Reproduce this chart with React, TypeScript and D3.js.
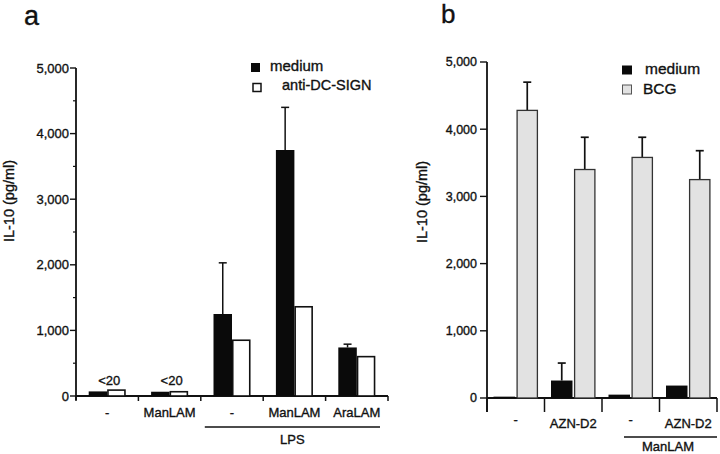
import React from 'react';
import * as d3 from 'd3';

// Panel a data
const groupsA = ['-', 'ManLAM', '-', 'ManLAM', 'AraLAM'];
const mediumA = [70, 65, 1250, 3750, 740];
const mediumAErr = [0, 0, 780, 650, 50];
const antiA = [90, 65, 850, 1360, 600];
const noteA = ['<20', '<20', '', '', ''];
const ticksA = [0, 1000, 2000, 3000, 4000, 5000];
const minorTicksA = [500, 1500, 2500, 3500, 4500];
const seriesA = ['medium', 'anti-DC-SIGN'];

// Panel b data
const groupsB = ['-', 'AZN-D2', '-', 'AZN-D2'];
const mediumB = [20, 260, 50, 185];
const mediumBErr = [0, 260, 0, 0];
const bcgB = [4280, 3400, 3580, 3250];
const bcgBErr = [420, 480, 300, 430];
const ticksB = [0, 1000, 2000, 3000, 4000, 5000];
const seriesB = ['medium', 'BCG'];

const FONT = '"Liberation Sans", Arial, Helvetica, sans-serif';
const fmt = d3.format(',');
const TXT = { fill: '#111', stroke: '#111', strokeWidth: 0.35 };

export default function App() {
  // scales panel a
  const xA = d3.scaleBand<number>().domain(d3.range(groupsA.length)).range([76, 388]);
  const yA = d3.scaleLinear().domain([0, 5000]).range([396, 68]);
  const bwA = 18.5;
  // scales panel b
  const xB = d3.scaleBand<number>().domain(d3.range(groupsB.length)).range([487, 717]);
  const yB = d3.scaleLinear().domain([0, 5000]).range([398, 62]);
  const bwB = 21.5;
  const gapB = 1.5;

  const capA = 4;
  const capB = 4;

  return (
    <svg width={720} height={454} style={{ position: 'absolute', left: 0, top: 0, background: '#fff' }} fontFamily={FONT}>
      <rect x={0} y={0} width={720} height={454} fill="#fff" />
      {/* ===== Panel a ===== */}
      <text x={24} y={25} fontSize={27} {...TXT}>a</text>
      <text transform={`translate(14,201) rotate(-90)`} textAnchor="middle" fontSize={14.5} {...TXT}>IL-10 (pg/ml)</text>
      {/* y axis */}
      <line x1={76} x2={76} y1={yA(5000)} y2={400} stroke="#111" strokeWidth={1.8} />
      {ticksA.map((t) => (
        <g key={'ta' + t}>
          <line x1={70} x2={76} y1={yA(t)} y2={yA(t)} stroke="#111" strokeWidth={1.4} />
          <text x={69} y={yA(t)} dy="0.35em" textAnchor="end" fontSize={13} {...TXT}>{fmt(t)}</text>
        </g>
      ))}
      {minorTicksA.map((t) => (
        <line key={'ma' + t} x1={73} x2={76} y1={yA(t)} y2={yA(t)} stroke="#111" strokeWidth={1.2} />
      ))}
      {/* x axis */}
      <line x1={76} x2={388} y1={yA(0)} y2={yA(0)} stroke="#111" strokeWidth={1.8} />
      {[...d3.range(groupsA.length).map((i) => xA(i)!), 388].map((x, i) => (
        <line key={'xa' + i} x1={x} x2={x} y1={yA(0)} y2={yA(0) + 5} stroke="#111" strokeWidth={1.5} />
      ))}
      {groupsA.map((g, i) => {
        const cx = xA(i)! + xA.bandwidth() / 2;
        const bx = cx - bwA;
        const topM = yA(mediumA[i]);
        const errTop = yA(mediumA[i] + mediumAErr[i]);
        return (
          <g key={'ga' + i}>
            {mediumAErr[i] > 0 && (
              <g stroke="#111" strokeWidth={1.5}>
                <line x1={bx + bwA / 2} x2={bx + bwA / 2} y1={topM} y2={errTop} />
                <line x1={bx + bwA / 2 - capA} x2={bx + bwA / 2 + capA} y1={errTop} y2={errTop} />
              </g>
            )}
            <rect x={bx} y={topM} width={bwA} height={yA(0) - topM} fill="#0a0a0a" />
            <rect x={cx + 0.75} y={yA(antiA[i])} width={bwA - 1.5} height={yA(0) - yA(antiA[i])} fill="#fff" stroke="#111" strokeWidth={1.6} />
            {noteA[i] && (
              <text x={cx + 2} y={385} textAnchor="middle" fontSize={13} {...TXT}>{noteA[i]}</text>
            )}
            <text x={cx} y={417} textAnchor="middle" fontSize={13} {...TXT}>{g}</text>
          </g>
        );
      })}
      {/* LPS bracket */}
      <line x1={xA(2)! + 4} x2={xA(4)! + xA.bandwidth() - 8} y1={427} y2={427} stroke="#111" strokeWidth={1.3} />
      <text x={(xA(2)! + 4 + xA(4)! + xA.bandwidth() - 8) / 2} y={444} textAnchor="middle" fontSize={13} {...TXT}>LPS</text>
      {/* legend a */}
      <rect x={251} y={63} width={9} height={9} fill="#0a0a0a" />
      <text x={270} y={71} fontSize={15} {...TXT}>{seriesA[0]}</text>
      <rect x={253} y={83.5} width={8} height={8} fill="#fff" stroke="#111" strokeWidth={1.5} />
      <text x={282} y={90} fontSize={14.5} {...TXT}>{seriesA[1]}</text>

      {/* ===== Panel b ===== */}
      <text x={441} y={23} fontSize={26} {...TXT}>b</text>
      <text transform={`translate(427,202) rotate(-90)`} textAnchor="middle" fontSize={14.5} {...TXT}>IL-10 (pg/ml)</text>
      <line x1={487} x2={487} y1={yB(5000)} y2={yB(0) + 14} stroke="#111" strokeWidth={1.8} />
      {ticksB.map((t) => (
        <g key={'tb' + t}>
          <line x1={480} x2={487} y1={yB(t)} y2={yB(t)} stroke="#111" strokeWidth={1.4} />
          <text x={477} y={yB(t)} dy="0.35em" textAnchor="end" fontSize={12.5} {...TXT}>{fmt(t)}</text>
        </g>
      ))}
      <line x1={487} x2={717} y1={yB(0)} y2={yB(0)} stroke="#111" strokeWidth={1.8} />
      {[...d3.range(groupsB.length).map((i) => xB(i)!), 717].map((x, i) => (
        <line key={'xb' + i} x1={x} x2={x} y1={yB(0)} y2={yB(0) + 14} stroke="#111" strokeWidth={1.5} />
      ))}
      {groupsB.map((g, i) => {
        const cx = xB(i)! + xB.bandwidth() / 2;
        const bx = cx - gapB / 2 - bwB;
        const gx = cx + gapB / 2;
        const topM = yB(mediumB[i]);
        const topG = yB(bcgB[i]);
        const errM = yB(mediumB[i] + mediumBErr[i]);
        const errG = yB(bcgB[i] + bcgBErr[i]);
        return (
          <g key={'gb' + i}>
            {mediumBErr[i] > 0 && (
              <g stroke="#111" strokeWidth={1.7}>
                <line x1={bx + bwB / 2} x2={bx + bwB / 2} y1={topM} y2={errM} />
                <line x1={bx + bwB / 2 - capB} x2={bx + bwB / 2 + capB} y1={errM} y2={errM} />
              </g>
            )}
            <rect x={bx} y={topM} width={bwB} height={yB(0) - topM} fill="#0a0a0a" />
            <g stroke="#111" strokeWidth={1.7}>
              <line x1={gx + bwB / 2} x2={gx + bwB / 2} y1={topG} y2={errG} />
              <line x1={gx + bwB / 2 - capB} x2={gx + bwB / 2 + capB} y1={errG} y2={errG} />
            </g>
            <rect x={gx + 0.6} y={topG} width={bwB - 1.2} height={yB(0) - topG} fill="#e2e2e2" stroke="#333" strokeWidth={1.3} />
            <text x={cx} y={g === '-' ? 424 : 428} textAnchor="middle" fontSize={13} {...TXT}>{g}</text>
          </g>
        );
      })}
      {/* ManLAM bracket */}
      <line x1={xB(2)! + 22} x2={xB(3)! + xB.bandwidth()} y1={437} y2={437} stroke="#111" strokeWidth={1.3} />
      <text x={668} y={451} textAnchor="middle" fontSize={13} {...TXT}>ManLAM</text>
      {/* legend b */}
      <rect x={622} y={65.5} width={10} height={9} fill="#0a0a0a" />
      <text x={645} y={74} fontSize={15.5} {...TXT}>{seriesB[0]}</text>
      <rect x={622.5} y={85} width={9} height={9} fill="#e2e2e2" stroke="#555" strokeWidth={1} />
      <text x={643} y={94} fontSize={15.5} {...TXT}>{seriesB[1]}</text>
    </svg>
  );
}
